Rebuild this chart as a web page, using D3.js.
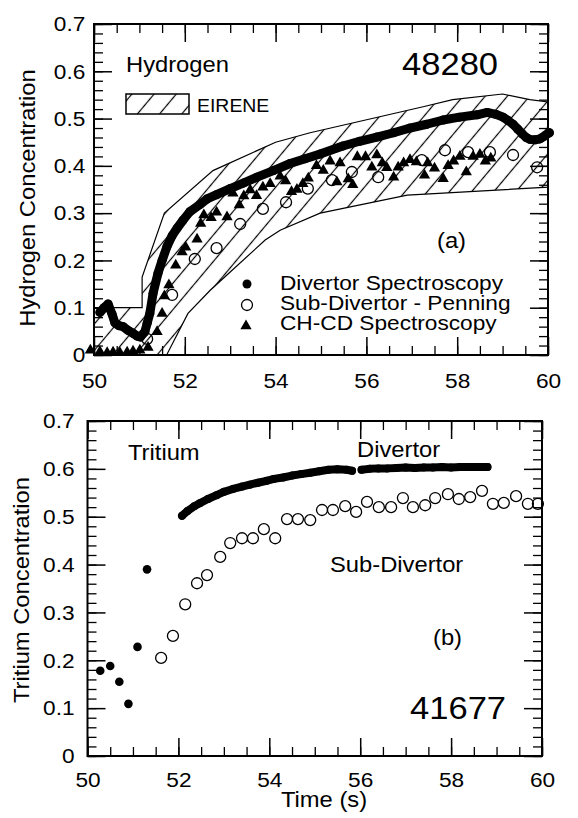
<!DOCTYPE html>
<html>
<head>
<meta charset="utf-8">
<script src="https://cdn.jsdelivr.net/npm/d3@7"></script>
<style>
    body { margin: 0; background: #fff; }
    text { font-family: "Liberation Sans", Arial, Helvetica, sans-serif; fill: #000; }
</style>
</head>
<body>
<div id="chart"></div>
<script>
// Axis ticks shared by both panels
const xTicks = [50, 52, 54, 56, 58, 60];
const xTickLabels = ['50', '52', '54', '56', '58', '60'];
const yTicks = [0, 0.1, 0.2, 0.3, 0.4, 0.5, 0.6, 0.7];
const yTickLabels = ['0', '0.1', '0.2', '0.3', '0.4', '0.5', '0.6', '0.7'];

// (a) Hydrogen, shot 48280  -- [time (s), concentration]
const eireneUpper = [[50, 0.1], [51.06, 0.1], [51.06, 0.165], [51.55, 0.3], [52.62, 0.39], [54.0, 0.45],
    [54.76, 0.47], [57.25, 0.525], [57.9, 0.54], [59.0, 0.552], [59.6, 0.54], [60, 0.535]];
const eireneLower = [[50, 0], [51.6, 0], [52.07, 0.088], [52.56, 0.137], [53.77, 0.243], [54.1, 0.264],
    [54.98, 0.3], [56.9, 0.338], [60, 0.355]];

const hDivertor = [[50.13, 0.09], [50.22, 0.1], [50.31, 0.108], [50.4, 0.086], [50.46, 0.068], [50.55, 0.062],
    [50.64, 0.06], [50.75, 0.052], [50.86, 0.046], [50.95, 0.04], [51.02, 0.038], [51.12, 0.049], [51.17, 0.067],
    [51.23, 0.088], [51.3, 0.13], [51.41, 0.173], [51.5, 0.2], [51.61, 0.23], [51.72, 0.252], [51.83, 0.268],
    [51.96, 0.285], [52.11, 0.303], [52.33, 0.318], [52.49, 0.33], [52.7, 0.339], [53.0, 0.352], [53.3, 0.364],
    [53.59, 0.376], [53.95, 0.39], [54.32, 0.405], [54.65, 0.415], [54.98, 0.425], [55.48, 0.442], [55.85, 0.452],
    [56.23, 0.461], [56.6, 0.47], [56.96, 0.48], [57.33, 0.488], [57.69, 0.497], [58.05, 0.503], [58.44, 0.508],
    [58.66, 0.513], [58.85, 0.509], [59.01, 0.503], [59.12, 0.496], [59.23, 0.488], [59.33, 0.478], [59.43, 0.468],
    [59.52, 0.46], [59.6, 0.456], [59.72, 0.455], [59.82, 0.457], [59.92, 0.463], [60.03, 0.47]];

const hSubDivertor = [[51.17, 0.034], [51.72, 0.127], [52.22, 0.203], [52.7, 0.226], [53.22, 0.277], [53.72, 0.309],
    [54.23, 0.323], [54.71, 0.352], [55.24, 0.37], [55.68, 0.387], [56.26, 0.376], [57.22, 0.412], [57.73, 0.433],
    [58.24, 0.429], [58.72, 0.429], [59.23, 0.423], [59.76, 0.397]];

const hChCd = [[49.92, 0.01], [50.13, 0.007], [50.29, 0.005], [50.42, 0.006], [50.57, 0.005], [50.73, 0.006],
    [50.86, 0.008], [51.01, 0.01], [51.19, 0.016], [51.39, 0.049], [51.5, 0.088], [51.55, 0.125], [51.65, 0.148],
    [51.8, 0.19], [51.94, 0.218], [52.02, 0.228], [52.27, 0.245], [52.35, 0.278], [52.42, 0.296], [52.58, 0.29],
    [52.7, 0.302], [52.93, 0.292], [53.06, 0.342], [53.2, 0.317], [53.3, 0.336], [53.44, 0.349], [53.58, 0.337],
    [53.72, 0.355], [53.88, 0.362], [54.1, 0.378], [54.22, 0.368], [54.35, 0.345], [54.47, 0.35], [54.6, 0.362],
    [54.72, 0.374], [54.9, 0.4], [55.05, 0.39], [55.2, 0.41], [55.35, 0.366], [55.42, 0.406], [55.6, 0.372],
    [55.7, 0.36], [55.8, 0.419], [55.98, 0.419], [56.12, 0.397], [56.23, 0.423], [56.35, 0.406], [56.45, 0.396],
    [56.6, 0.376], [56.7, 0.397], [56.82, 0.406], [56.96, 0.413], [57.1, 0.408], [57.28, 0.38], [57.35, 0.406],
    [57.5, 0.395], [57.69, 0.373], [57.8, 0.4], [57.92, 0.41], [58.06, 0.42], [58.2, 0.387], [58.35, 0.42],
    [58.5, 0.424], [58.62, 0.41], [58.74, 0.416]];

// (b) Tritium, shot 41677
const tDivertorEarly = [[50.28, 0.178], [50.5, 0.188], [50.7, 0.155], [50.9, 0.109], [51.1, 0.228], [51.31, 0.39]];
const tDivertorSeg1 = [[52.08, 0.502], [52.2, 0.512], [52.35, 0.522], [52.47, 0.528], [52.65, 0.537], [52.84, 0.545],
    [53.0, 0.552], [53.2, 0.558], [53.4, 0.563], [53.57, 0.567], [53.75, 0.571], [53.94, 0.575], [54.1, 0.579],
    [54.3, 0.582], [54.5, 0.586], [54.7, 0.589], [54.9, 0.592], [55.1, 0.595], [55.3, 0.598], [55.5, 0.599],
    [55.7, 0.598], [55.82, 0.596]];
const tDivertorSeg2 = [[56.03, 0.598], [56.2, 0.6], [56.4, 0.601], [56.6, 0.601], [56.8, 0.602], [57.0, 0.603],
    [57.2, 0.602], [57.4, 0.603], [57.6, 0.603], [57.8, 0.604], [58.0, 0.603], [58.2, 0.604], [58.4, 0.604],
    [58.6, 0.604], [58.8, 0.604]];
const tSubDivertor = [[51.62, 0.205], [51.88, 0.251], [52.15, 0.317], [52.41, 0.361], [52.63, 0.378], [52.92, 0.416],
    [53.14, 0.445], [53.4, 0.455], [53.64, 0.455], [53.88, 0.474], [54.13, 0.455], [54.39, 0.495], [54.63, 0.495],
    [54.9, 0.493], [55.16, 0.514], [55.4, 0.514], [55.67, 0.522], [55.91, 0.51], [56.15, 0.531], [56.41, 0.52],
    [56.68, 0.52], [56.94, 0.539], [57.16, 0.52], [57.43, 0.524], [57.65, 0.539], [57.93, 0.547], [58.17, 0.537],
    [58.42, 0.541], [58.68, 0.554], [58.92, 0.527], [59.16, 0.529], [59.43, 0.543], [59.69, 0.527], [59.91, 0.527]];

const STRETCH = 1.08;   // the scanned lettering is a bit wider than Arial

const svg = d3.select('#chart')
    .append('svg')
    .attr('width', 578)
    .attr('height', 818)
    .style('background', '#fff');

// Hatch used by the EIRENE band
svg.append('defs').append('pattern')
    .attr('id', 'hatch')
    .attr('patternUnits', 'userSpaceOnUse')
    .attr('width', 17)
    .attr('height', 17)
    .attr('patternTransform', 'rotate(40)')
    .append('line')
    .attr('x1', 8.5).attr('y1', 0)
    .attr('x2', 8.5).attr('y2', 17)
    .attr('stroke', '#000')
    .attr('stroke-width', 1.2);

function label(x, y, str, size, anchor = 'start', rot = 0) {
    return svg.append('text')
        .attr('transform', `translate(${x},${y}) rotate(${rot}) scale(${STRETCH},1)`)
        .attr('text-anchor', anchor)
        .style('font-size', size + 'px')
        .text(str);
}

// Frame with inward ticks on all four sides
function drawFrame(x, y, padX, padY) {
    const [left, right] = x.range();
    const [bottom, top] = y.range();
    const minorX = d3.range(50, 60.001, 0.5);
    const minorY = d3.range(0, 0.7001, 0.02);
    const g = svg.append('g');

    const sides = [
        [d3.axisBottom, x, bottom, true],
        [d3.axisTop, x, top, false],
        [d3.axisLeft, y, left, true],
        [d3.axisRight, y, right, false]
    ];
    sides.forEach(([makeAxis, scale, pos, labelled]) => {
        const isX = scale === x;
        const tr = isX ? `translate(0,${pos})` : `translate(${pos},0)`;

        // minor ticks
        g.append('g').attr('transform', tr)
            .call(makeAxis(scale).tickValues(isX ? minorX : minorY).tickFormat('').tickSize(-9))
            .call(a => a.select('.domain').remove())
            .selectAll('line').attr('stroke-width', 1.3);

        // major ticks
        const labels = isX ? xTickLabels : yTickLabels;
        const ag = g.append('g').attr('transform', tr)
            .call(makeAxis(scale)
                .tickValues(isX ? xTicks : yTicks)
                .tickSize(-18)
                .tickPadding(isX ? padX : padY)
                .tickFormat(labelled ? (d, i) => labels[i] : ''))
            .attr('font-size', 21);
        ag.select('.domain').remove();
        ag.selectAll('line').attr('stroke-width', 1.5);
        ag.selectAll('text').attr('transform', `scale(${STRETCH},1)`);
    });

    g.append('rect')
        .attr('x', left)
        .attr('y', top)
        .attr('width', right - left)
        .attr('height', bottom - top)
        .attr('fill', 'none')
        .attr('stroke', '#000')
        .attr('stroke-width', 2);
}

// Densely sampled filled-circle series drawn as overlapping dots
function dotTrace(data, x, y, width) {
    svg.append('path')
        .datum(data)
        .attr('d', d3.line().x(d => x(d[0])).y(d => y(d[1])))
        .attr('fill', 'none')
        .attr('stroke', '#000')
        .attr('stroke-width', width)
        .attr('stroke-linejoin', 'round')
        .attr('stroke-linecap', 'round');
    svg.append('g').selectAll('circle')
        .data(data)
        .join('circle')
        .attr('cx', d => x(d[0]))
        .attr('cy', d => y(d[1]))
        .attr('r', width / 2)
        .attr('fill', '#000');
}

// ---------- Panel (a) ----------
const xA = d3.scaleLinear().domain([50, 60]).range([94, 548]);
const yA = d3.scaleLinear().domain([0, 0.7]).range([355, 24]);

const band = eireneUpper.concat(eireneLower.slice().reverse());
svg.append('path')
    .datum(band)
    .attr('d', d3.line().x(d => xA(d[0])).y(d => yA(d[1])).curve(d3.curveLinearClosed))
    .attr('fill', 'url(#hatch)')
    .attr('stroke', '#000')
    .attr('stroke-width', 1.2);

const tri = d3.symbol().type(d3.symbolTriangle).size(55);
svg.append('g').selectAll('path')
    .data(hChCd)
    .join('path')
    .attr('d', tri)
    .attr('transform', d => `translate(${xA(d[0])},${yA(d[1])})`)
    .attr('fill', '#000');

svg.append('g').selectAll('circle')
    .data(hSubDivertor)
    .join('circle')
    .attr('cx', d => xA(d[0]))
    .attr('cy', d => yA(d[1]))
    .attr('r', 5.5)
    .attr('fill', 'none')
    .attr('stroke', '#000')
    .attr('stroke-width', 1.3);

dotTrace(hDivertor, xA, yA, 9);

drawFrame(xA, yA, 18, 8);

label(126, 72, 'Hydrogen', 22);
label(402, 75, '48280', 32);
svg.append('rect')
    .attr('x', 126).attr('y', 94)
    .attr('width', 63).attr('height', 20)
    .attr('fill', 'url(#hatch)')
    .attr('stroke', '#000')
    .attr('stroke-width', 1.5);
label(197, 112, 'EIRENE', 18);
label(437, 248, '(a)', 22);

// legend
svg.append('circle').attr('cx', 247).attr('cy', 284).attr('r', 4.5).attr('fill', '#000');
svg.append('circle').attr('cx', 247).attr('cy', 305).attr('r', 5.5)
    .attr('fill', 'none').attr('stroke', '#000').attr('stroke-width', 1.3);
svg.append('path').attr('d', tri).attr('transform', 'translate(246,326)').attr('fill', '#000');
label(280, 290, 'Divertor Spectroscopy', 21);
label(280, 310, 'Sub-Divertor - Penning', 21);
label(280, 330, 'CH-CD Spectroscopy', 21);

label(35, 198, 'Hydrogen Concentration', 22, 'middle', -90);

// ---------- Panel (b) ----------
const xB = d3.scaleLinear().domain([50, 60]).range([87.5, 542]);
const yB = d3.scaleLinear().domain([0, 0.7]).range([756, 421]);

svg.append('g').selectAll('circle')
    .data(tSubDivertor)
    .join('circle')
    .attr('cx', d => xB(d[0]))
    .attr('cy', d => yB(d[1]))
    .attr('r', 5.5)
    .attr('fill', 'none')
    .attr('stroke', '#000')
    .attr('stroke-width', 1.3);

svg.append('g').selectAll('circle')
    .data(tDivertorEarly)
    .join('circle')
    .attr('cx', d => xB(d[0]))
    .attr('cy', d => yB(d[1]))
    .attr('r', 4.3)
    .attr('fill', '#000');

dotTrace(tDivertorSeg1, xB, yB, 8);
dotTrace(tDivertorSeg2, xB, yB, 8);

drawFrame(xB, yB, 16, 12);

label(128, 460, 'Tritium', 22);
label(357, 457, 'Divertor', 22);
label(330, 572, 'Sub-Divertor', 22);
label(433, 645, '(b)', 22);
label(410, 719, '41677', 32);

label(29, 590, 'Tritium Concentration', 22, 'middle', -90);
label(324, 807, 'Time (s)', 22, 'middle');
</script>
</body>
</html>
